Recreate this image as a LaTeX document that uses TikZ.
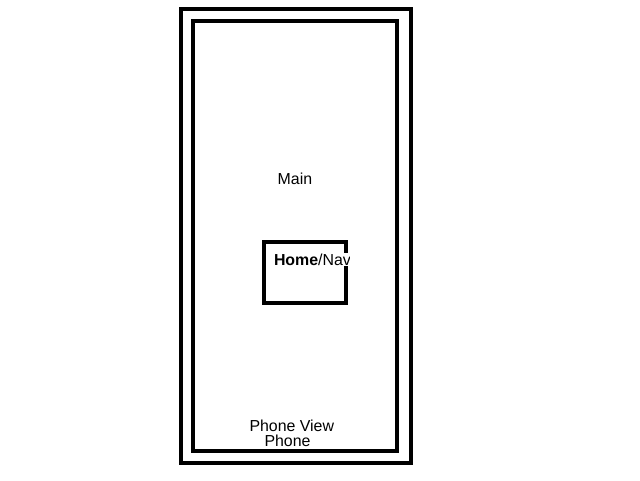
\documentclass[tikz,border=0pt]{standalone}
\usepackage{fontspec}
\setmainfont{Liberation Sans}
\begin{document}
\begin{tikzpicture}[x=1pt,y=-1pt,
  frame/.style={draw=black,line width=4pt,inner sep=0pt,fill=none},
  lbl/.style={inner sep=0pt,anchor=base west,font=\fontsize{15.9}{18}\selectfont}]
\useasboundingbox (0,0) rectangle (640,480);
\node[frame,minimum width=229.5pt,minimum height=453.5pt] (outer) at (295.75,235.75) {};
\node[frame,minimum width=204pt,minimum height=429.5pt] (inner) at (295,235.75) {};
\node[frame,minimum width=81.5pt,minimum height=61pt] (nav) at (304.75,272.5) {};
\node[lbl] (main) at (277.5,184.3) {Main};
\begin{scope}
  \clip (0,0) rectangle (349,480);
  \node[lbl,fill=white,inner sep=0.5pt] (navlbl) at (273.3,265) {\textbf{Home}/Nav};
\end{scope}
\node[lbl] (pview) at (249.3,431.7) {Phone View};
\node[lbl] (phone) at (264.3,446) {Phone};
\end{tikzpicture}
\end{document}
